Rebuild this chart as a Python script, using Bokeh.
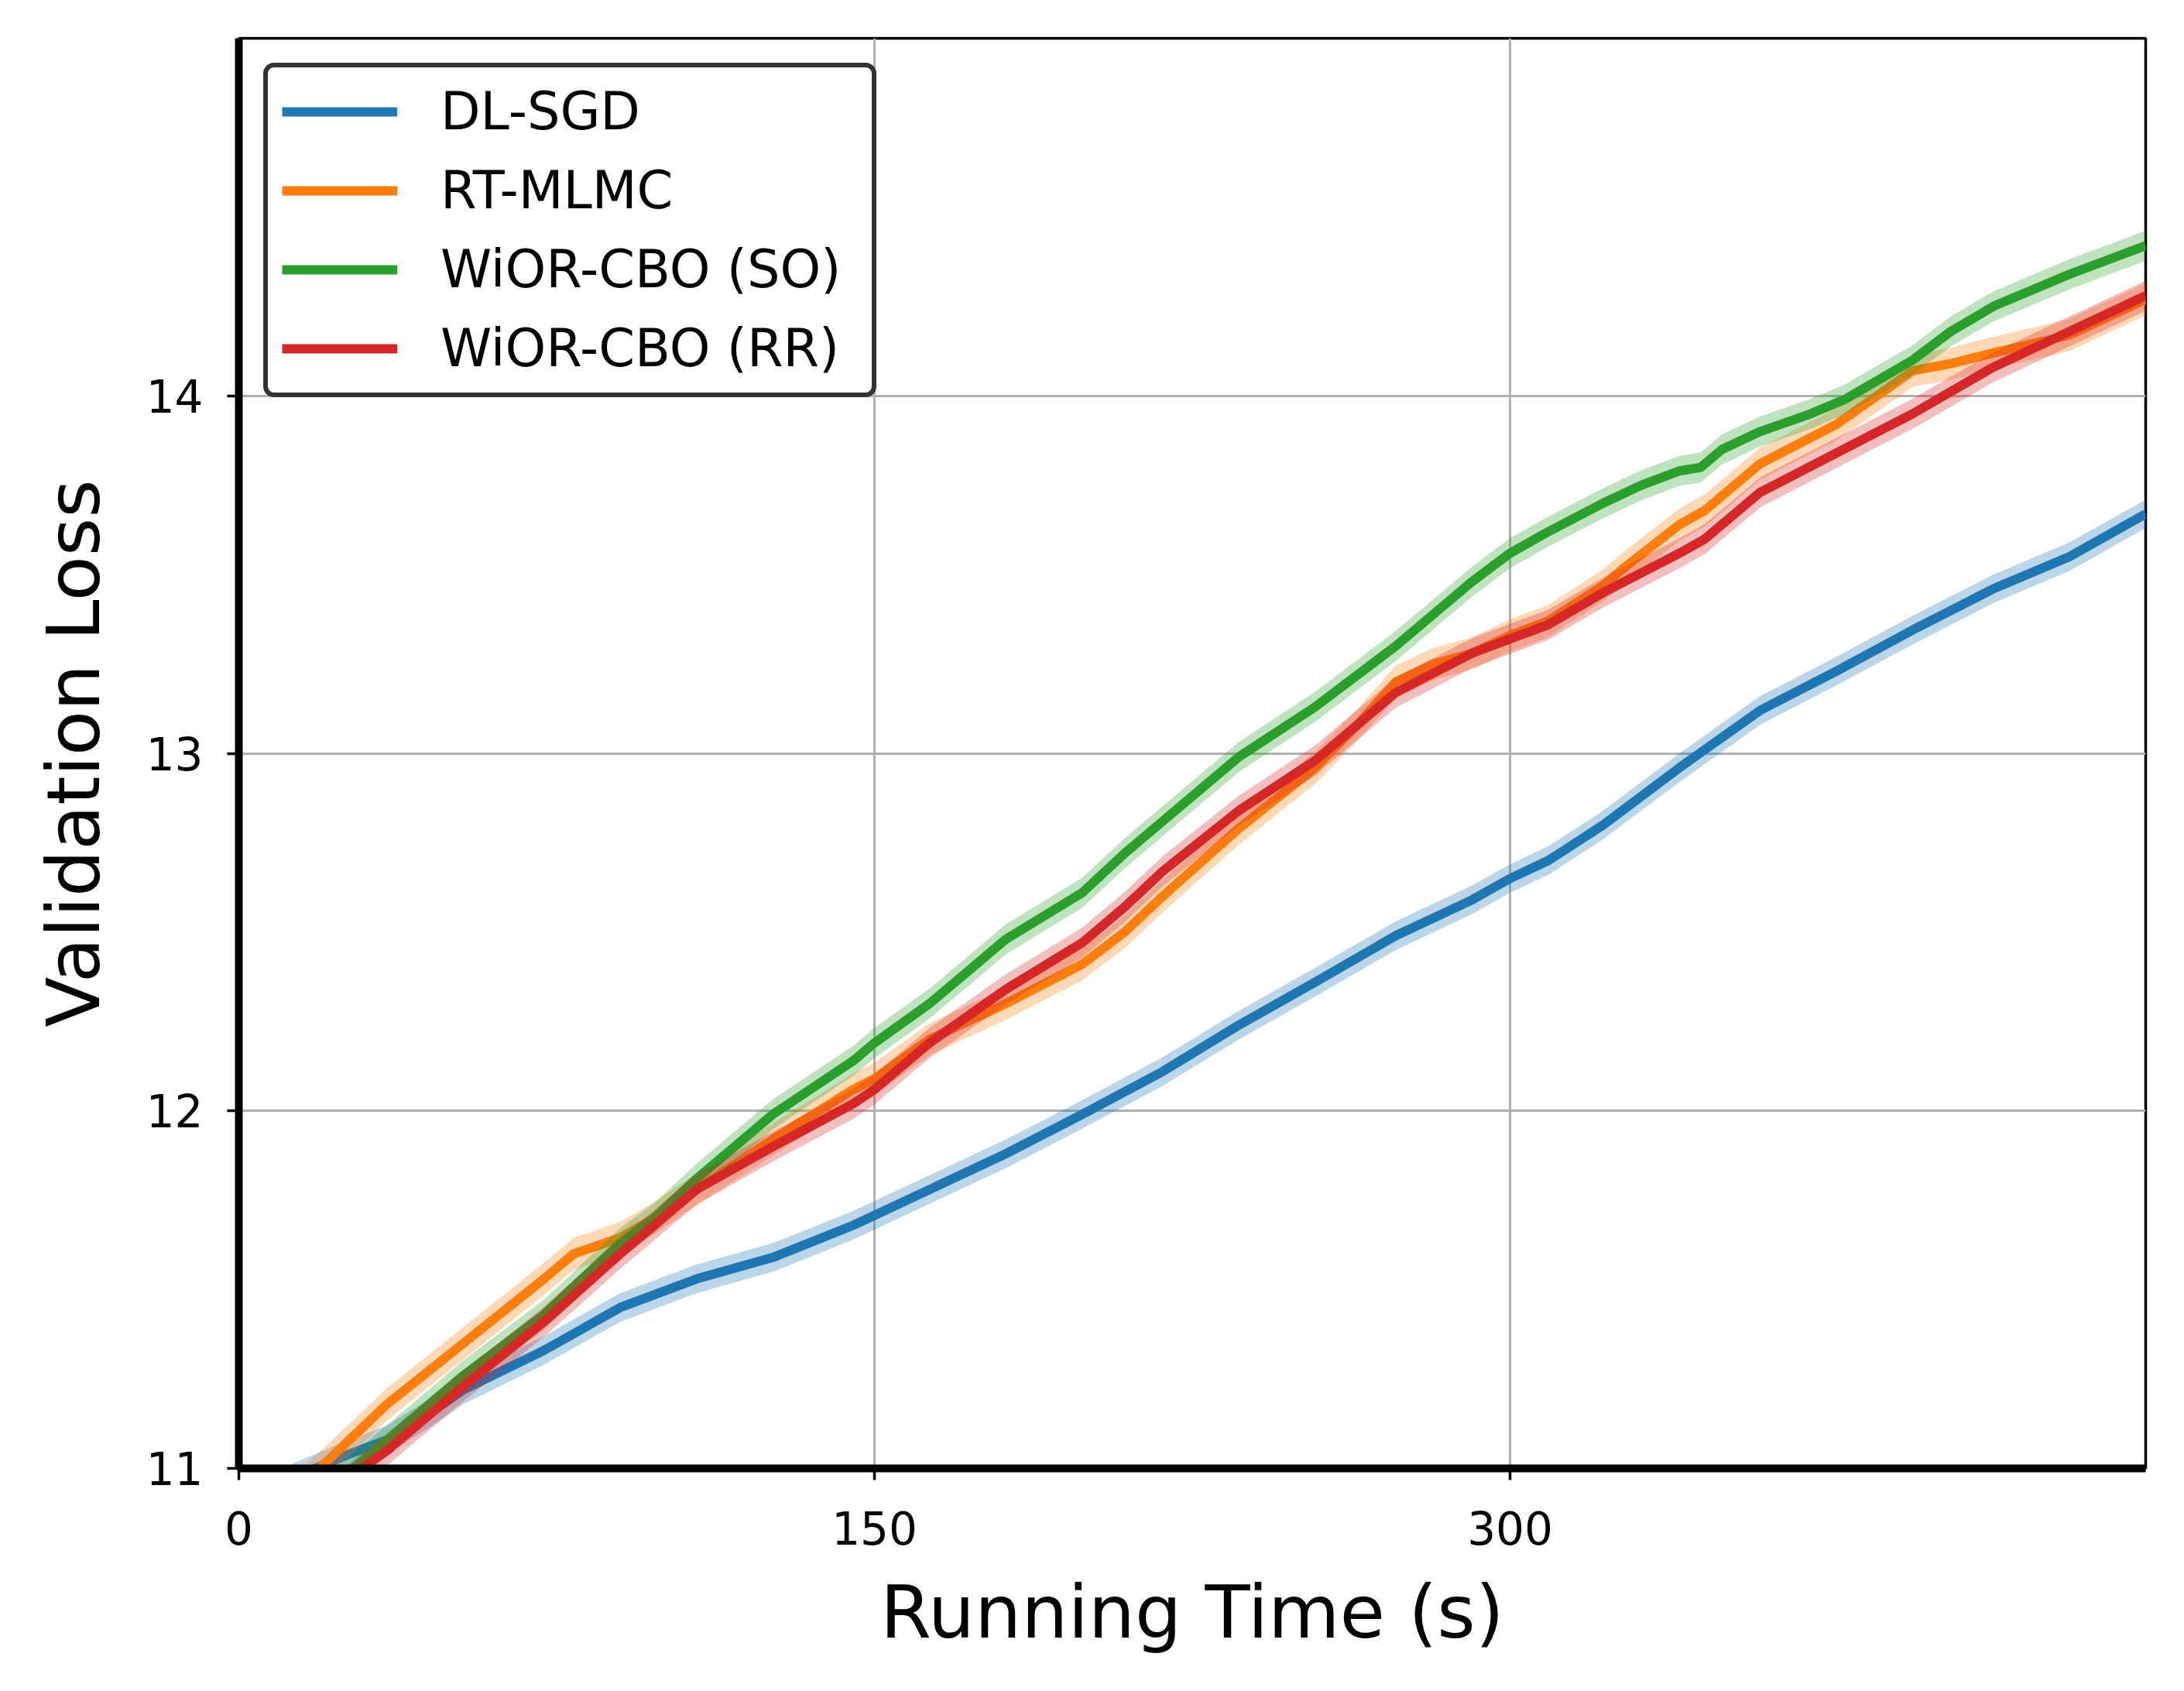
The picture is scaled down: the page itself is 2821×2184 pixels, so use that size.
from bokeh.plotting import figure
from bokeh.models import Range1d, FixedTicker, Legend, LegendItem
from bokeh.embed import file_html
from bokeh.resources import INLINE

# ---- data ----
series_names = ["DL-SGD", "RT-MLMC", "WiOR-CBO (SO)", "WiOR-CBO (RR)"]
series_colors = ["#1f77b4", "#ff7f0e", "#2ca02c", "#d62728"]

dl_sgd_x = [0, 10, 18, 26, 35, 47, 53, 72, 90, 108, 126, 145, 163, 181, 199, 218, 236,
            254, 273, 291, 300, 309, 322, 340, 359, 377, 395, 414, 432, 450]
dl_sgd_y = [10.92, 10.96, 11.00, 11.04, 11.08, 11.17, 11.22, 11.33, 11.45, 11.53, 11.59, 11.68,
            11.78, 11.88, 11.99, 12.11, 12.24, 12.36, 12.49, 12.59, 12.65, 12.70, 12.80,
            12.96, 13.12, 13.23, 13.345, 13.46, 13.55, 13.67]

rt_mlmc_x = [0, 19, 35, 53, 72, 79, 90, 98, 108, 126, 145, 150, 163, 181, 199, 209, 218,
             236, 254, 264, 273, 282, 291, 300, 309, 322, 327, 340, 346, 359, 377, 395,
             404, 414, 432, 450]
rt_mlmc_y = [10.81, 11.00, 11.18, 11.35, 11.53, 11.60, 11.645, 11.70, 11.78, 11.92, 12.06,
             12.09, 12.20, 12.30, 12.41, 12.50, 12.60, 12.79, 12.96, 13.08, 13.20, 13.25,
             13.28, 13.33, 13.37, 13.47, 13.52, 13.64, 13.68, 13.81, 13.92, 14.07, 14.09,
             14.12, 14.17, 14.27]

wior_so_x = [0, 27, 35, 53, 72, 90, 98, 108, 126, 145, 150, 163, 181, 199, 209, 218, 236,
             254, 273, 291, 300, 309, 322, 331, 340, 345, 350, 359, 371, 379, 395, 404,
             414, 432, 450]
wior_so_y = [10.73, 11.00, 11.08, 11.26, 11.43, 11.63, 11.70, 11.81, 11.99, 12.14, 12.19,
             12.30, 12.48, 12.61, 12.72, 12.81, 12.99, 13.13, 13.30, 13.48, 13.56, 13.62,
             13.70, 13.75, 13.79, 13.80, 13.85, 13.90, 13.95, 13.99, 14.10, 14.18, 14.25,
             14.34, 14.42]

wior_rr_x = [0, 29, 35, 47, 53, 72, 90, 108, 126, 145, 150, 163, 181, 199, 209, 218, 236,
             254, 273, 291, 300, 309, 322, 340, 346, 359, 377, 395, 414, 432, 450]
wior_rr_y = [10.71, 11.00, 11.05, 11.17, 11.23, 11.41, 11.60, 11.78, 11.90, 12.02, 12.06,
             12.19, 12.34, 12.47, 12.57, 12.67, 12.84, 12.98, 13.17, 13.28, 13.32, 13.36,
             13.45, 13.56, 13.60, 13.73, 13.84, 13.95, 14.08, 14.18, 14.28]

band_half = [0.040, 0.045, 0.042, 0.042]

x_ticks = [0, 150, 300]
y_ticks = [11, 12, 13, 14]

xs = [dl_sgd_x, rt_mlmc_x, wior_so_x, wior_rr_x]
ys = [dl_sgd_y, rt_mlmc_y, wior_so_y, wior_rr_y]

FONT = "DejaVu Sans"

p = figure(frame_width=2463, frame_height=1847,
           min_border_left=308, min_border_right=34, min_border_top=49, min_border_bottom=272,
           x_range=Range1d(0, 450), y_range=Range1d(11, 15),
           output_backend="svg", toolbar_location=None)

p.background_fill_color = "white"
p.border_fill_color = "white"
p.outline_line_color = "black"
p.outline_line_width = 3.5
p.outline_line_alpha = 1.0

renderers = []
for name, color, x, y, h in zip(series_names, series_colors, xs, ys, band_half):
    r = p.line(x, y, line_color=color, line_width=12, line_join="round")
    lo = [v - h for v in y]
    hi = [v + h for v in y]
    p.varea(x=x, y1=lo, y2=hi, fill_color=color, fill_alpha=0.3)
    renderers.append(r)

# grid
for g in (p.xgrid, p.ygrid):
    g.grid_line_color = "#b0b0b0"
    g.grid_line_width = 3

p.xaxis.ticker = FixedTicker(ticks=x_ticks)
p.yaxis.ticker = FixedTicker(ticks=y_ticks)

for ax in (p.xaxis, p.yaxis):
    ax.axis_line_width = 10
    ax.axis_line_color = "black"
    ax.major_tick_line_width = 3.5
    ax.major_tick_line_color = "black"
    ax.major_tick_out = 15
    ax.major_tick_in = 0
    ax.minor_tick_line_color = None
    ax.major_label_text_font = FONT
    ax.major_label_text_font_size = "58px"
    ax.major_label_text_color = "black"
    ax.axis_label_text_font = FONT
    ax.axis_label_text_font_size = "95px"
    ax.axis_label_text_font_style = "normal"
    ax.axis_label_text_color = "black"

p.xaxis.axis_label = "Running Time (s)"
p.yaxis.axis_label = "Validation Loss"
p.xaxis.major_label_standoff = 40
p.yaxis.major_label_standoff = 31
p.xaxis.axis_label_standoff = 29
p.yaxis.axis_label_standoff = 36

legend = Legend(items=[LegendItem(label=n, renderers=[r]) for n, r in zip(series_names, renderers)],
                location="top_left")
legend.margin = 32
legend.padding = 18
legend.spacing = 24
legend.glyph_width = 149
legend.glyph_height = 78
legend.label_height = 78
legend.label_width = 539
legend.label_standoff = 56
legend.label_text_font = FONT
legend.label_text_font_size = "67px"
legend.label_text_color = "black"
legend.border_line_color = "#333333"
legend.border_line_alpha = 1.0
legend.border_line_width = 6
legend.border_radius = 14
legend.background_fill_color = "white"
legend.background_fill_alpha = 1.0
p.add_layout(legend)

open("out.html", "w").write(file_html(p, INLINE))
